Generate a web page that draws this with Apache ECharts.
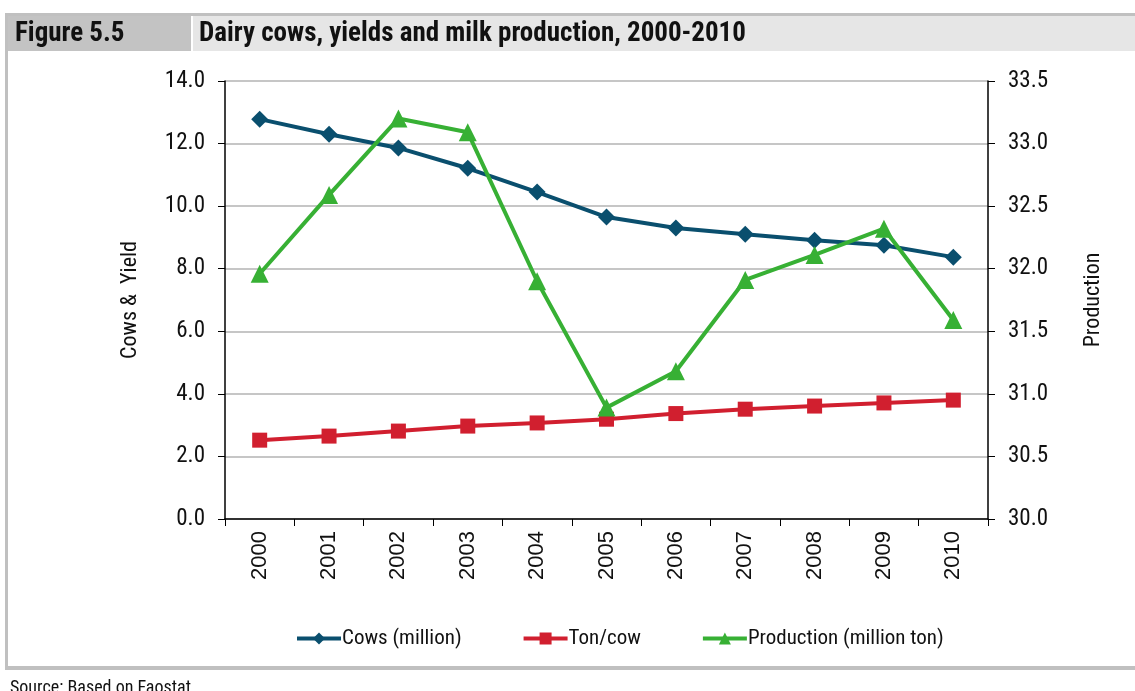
<!DOCTYPE html>
<html><head><meta charset="utf-8">
<script src="https://cdn.jsdelivr.net/npm/echarts@6/dist/echarts.min.js"></script>
<style>html,body{margin:0;padding:0;background:#fff}#c{width:1135px;height:691px}</style>
</head><body><div id="c"></div>
<script>
const years = ['2000','2001','2002','2003','2004','2005','2006','2007','2008','2009','2010'];
const cows = [12.78, 12.30, 11.86, 11.21, 10.45, 9.65, 9.30, 9.10, 8.91, 8.75, 8.37];
const tonPerCow = [2.52, 2.65, 2.81, 2.97, 3.07, 3.19, 3.37, 3.51, 3.61, 3.71, 3.80];
const production = [31.96, 32.59, 33.20, 33.09, 31.90, 30.89, 31.18, 31.91, 32.11, 32.32, 31.59];
const leftTicks = [0, 14, 2];
const rightTicks = [30, 33.5, 0.5];

const F = "'Liberation Sans Narrow','Roboto Condensed','Liberation Sans',sans-serif";
const chart = echarts.init(document.getElementById('c'));
chart.setOption({
  animation: false,
  backgroundColor: '#fff',
  textStyle: {fontFamily: F},
  graphic: [
    {type:'rect', shape:{x:5, y:13, width:1130, height:3}, style:{fill:'#c0c0c0'}},
    {type:'rect', shape:{x:5, y:13, width:3, height:657}, style:{fill:'#c0c0c0'}},
    {type:'rect', shape:{x:8, y:16, width:183, height:35}, style:{fill:'#c3c3c3'}},
    {type:'rect', shape:{x:193, y:16, width:942, height:35}, style:{fill:'#e6e6e6'}},
    {type:'rect', shape:{x:5, y:666, width:1130, height:4}, style:{fill:'#c0c0c0'}},
    {type:'text', left:15, top:21, style:{text:'Figure 5.5', font:"bold 27px "+F, fill:'#111'}},
    {type:'text', left:199, top:21, style:{text:'Dairy cows, yields and milk production, 2000-2010', font:"bold 27px "+F, fill:'#111'}},
    {type:'text', left:10, top:679, style:{text:'Source: Based on Faostat.', font:"18px "+F, fill:'#111'}}
  ],
  grid: {left:225, right:147, top:81, bottom:172, containLabel:false},
  legend: {
    bottom: 37, left: 290, itemGap: 60, itemWidth: 44, itemHeight: 15,
    lineStyle: {width: 4},
    textStyle:{fontFamily:F, fontSize:21, color:'#111', padding:[0,0,0,-4]},
    data:['Cows (million)','Ton/cow','Production (million ton)']
  },
  xAxis: {
    type:'category', data: years, boundaryGap:true,
    axisLine:{lineStyle:{color:'#000', width:1.5}},
    axisTick:{show:true, length:7, lineStyle:{color:'#000'}, inside:false},
    axisLabel:{rotate:90, color:'#111', fontSize:22, fontFamily:'Liberation Sans, Arial, sans-serif', margin:12}
  },
  yAxis: [
    {type:'value', min:leftTicks[0], max:leftTicks[1], interval:leftTicks[2],
     name:'Cows &  Yield', nameLocation:'middle', nameGap:84, nameRotate:90,
     nameTextStyle:{fontSize:22, color:'#111', fontFamily:F},
     axisLine:{show:true, lineStyle:{color:'#000', width:1.5}},
     axisTick:{show:true, length:7, lineStyle:{color:'#000'}},
     axisLabel:{formatter:v=>v.toFixed(1), fontSize:23, color:'#111', margin:20},
     splitLine:{lineStyle:{color:'#b3b3b3', width:1.5}}},
    {type:'value', min:rightTicks[0], max:rightTicks[1], interval:rightTicks[2],
     name:'Production', nameLocation:'middle', nameGap:94, nameRotate:90,
     nameTextStyle:{fontSize:22, color:'#111', fontFamily:F},
     axisLine:{show:true, lineStyle:{color:'#000', width:1.5}},
     axisTick:{show:true, length:7, lineStyle:{color:'#000'}},
     axisLabel:{formatter:v=>v.toFixed(1), fontSize:23, color:'#111', margin:20},
     splitLine:{show:false}}
  ],
  series: [
    {name:'Cows (million)', type:'line', data:cows, yAxisIndex:0, symbol:'diamond', symbolSize:17,
     itemStyle:{color:'#0a4f6e'}, lineStyle:{color:'#0a4f6e', width:4}, z:3},
    {name:'Ton/cow', type:'line', data:tonPerCow, yAxisIndex:0, symbol:'rect', symbolSize:15,
     itemStyle:{color:'#d11f2f'}, lineStyle:{color:'#d11f2f', width:4}, z:2},
    {name:'Production (million ton)', type:'line', data:production, yAxisIndex:1, symbol:'triangle', symbolSize:18,
     itemStyle:{color:'#37b034'}, lineStyle:{color:'#37b034', width:4}, z:4}
  ]
});
</script></body></html>
